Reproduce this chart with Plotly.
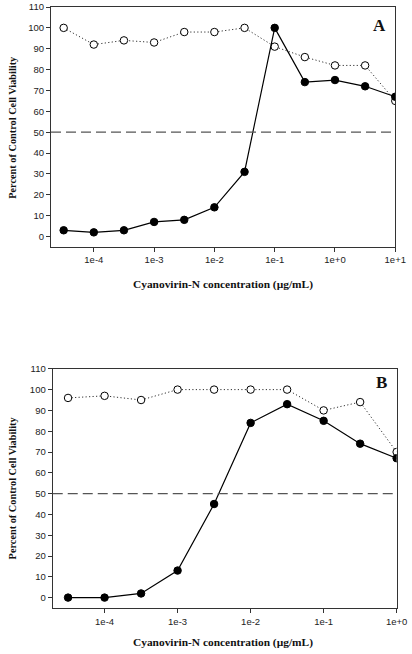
import numpy as np
import plotly.graph_objects as go

# ---- data ----
conc_a = [10**-4.5, 1e-4, 10**-3.5, 1e-3, 10**-2.5, 1e-2, 10**-1.5, 1e-1, 10**-0.5, 1e0, 10**0.5, 1e1]
solid_a = [3, 2, 3, 7, 8, 14, 31, 100, 74, 75, 72, 67]
open_a = [100, 92, 94, 93, 98, 98, 100, 91, 86, 82, 82, 65]

conc_b = [10**-4.5, 1e-4, 10**-3.5, 1e-3, 10**-2.5, 1e-2, 10**-1.5, 1e-1, 10**-0.5, 1e0]
solid_b = [0, 0, 2, 13, 45, 84, 93, 85, 74, 67]
open_b = [96, 97, 95, 100, 100, 100, 100, 90, 94, 70]

xtick_vals_a = [1e-4, 1e-3, 1e-2, 1e-1, 1e0, 1e1]
xtick_text_a = ["1e-4", "1e-3", "1e-2", "1e-1", "1e+0", "1e+1"]
xtick_vals_b = [1e-4, 1e-3, 1e-2, 1e-1, 1e0]
xtick_text_b = ["1e-4", "1e-3", "1e-2", "1e-1", "1e+0"]
ytick_vals = [0, 10, 20, 30, 40, 50, 60, 70, 80, 90, 100, 110]
cutoff = 50

x_title = "Cyanovirin-N concentration (µg/mL)"
y_title = "Percent of Control Cell Viability"

SERIF = "Liberation Serif, Times New Roman, serif"
SANS = "Liberation Sans, Arial, sans-serif"

fig = go.Figure()

def add_panel(xs, solid, opn, xa, ya):
    fig.add_trace(go.Scatter(x=xs, y=opn, mode="lines+markers", xaxis=xa, yaxis=ya,
                             line=dict(color="#333", width=1, dash="1.2px,2.3px"),
                             marker=dict(symbol="circle", size=7.5, color="white",
                                         line=dict(color="black", width=1)),
                             showlegend=False))
    fig.add_trace(go.Scatter(x=xs, y=solid, mode="lines+markers", xaxis=xa, yaxis=ya,
                             line=dict(color="black", width=1.2),
                             marker=dict(symbol="circle", size=7.5, color="black",
                                         line=dict(color="black", width=1)),
                             showlegend=False))

add_panel(conc_a, solid_a, open_a, "x", "y")
add_panel(conc_b, solid_b, open_b, "x2", "y2")

axis_common = dict(showline=True, linecolor="#333", linewidth=1.2, mirror=True,
                   ticks="outside", ticklen=4, tickcolor="#333", showgrid=False,
                   zeroline=False, automargin=False,
                   tickfont=dict(family=SANS, size=9.5, color="#222"))

fig.update_layout(
    width=412, height=654,
    margin=dict(l=51, r=15, t=7, b=46),
    paper_bgcolor="white", plot_bgcolor="white",
    xaxis=dict(type="log", range=[-4.71, 1.0], domain=[0.0, 0.995], anchor="y",
               tickvals=xtick_vals_a, ticktext=xtick_text_a, **axis_common),
    yaxis=dict(range=[-5, 110], domain=[0.6007, 1.0], anchor="x",
               tickvals=ytick_vals, **axis_common),
    xaxis2=dict(type="log", range=[-4.71, 0.0], domain=[0.005, 0.999], anchor="y2",
                tickvals=xtick_vals_b, ticktext=xtick_text_b, **axis_common),
    yaxis2=dict(range=[-5, 110], domain=[0.0, 0.398], anchor="x2",
                tickvals=ytick_vals, **axis_common),
)

for xa, ya in [("x", "y"), ("x2", "y2")]:
    fig.add_shape(type="line", xref=f"{xa} domain", yref=ya, x0=0, x1=1,
                  y0=cutoff, y1=cutoff,
                  line=dict(color="#555", width=1.2, dash="10px,5px"))

# axis titles
for ypos in [0.539, -0.058]:
    fig.add_annotation(text=f"<b>{x_title}</b>", xref="paper", yref="paper",
                       x=0.497, y=ypos, xanchor="center", yanchor="middle",
                       showarrow=False, font=dict(family=SERIF, size=11.4, color="#111"))
for ypos in [0.800, 0.200]:
    fig.add_annotation(text=f"<b>{y_title}</b>", xref="paper", yref="paper",
                       x=-0.111, y=ypos, xanchor="center", yanchor="middle", textangle=-90,
                       showarrow=False, font=dict(family=SERIF, size=10.3, color="#111"))

fig.add_annotation(text="<b>A</b>", xref="x domain", yref="y domain", x=0.953, y=0.923,
                   xanchor="center", yanchor="middle",
                   showarrow=False, font=dict(family=SERIF, size=17, color="#111"))
fig.add_annotation(text="<b>B</b>", xref="x2 domain", yref="y2 domain", x=0.957, y=0.941,
                   xanchor="center", yanchor="middle",
                   showarrow=False, font=dict(family=SERIF, size=17, color="#111"))

fig.write_html("out.html", config={"displayModeBar": False},
               post_script="document.body.style.margin='0';document.body.style.overflow='hidden';")
